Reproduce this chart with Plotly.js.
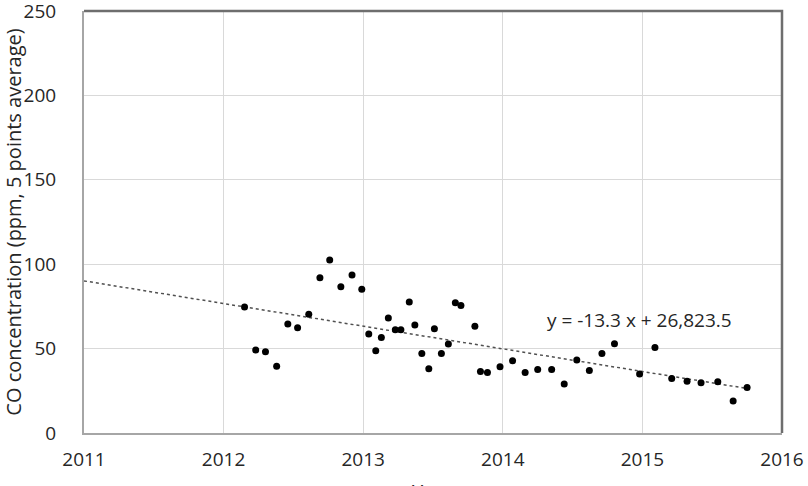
<!DOCTYPE html>
<html>
<head>
<meta charset="utf-8">
<script src="https://cdn.plot.ly/plotly-3.0.1.min.js"></script>
<style>html,body{margin:0;padding:0;background:#fff;}#chart{width:808px;height:486px;}</style>
</head>
<body>
<div id="chart"></div>
<script>
// Data
var years = [2012.15, 2012.23, 2012.30, 2012.38, 2012.46, 2012.53, 2012.61, 2012.69, 2012.76, 2012.84,
             2012.92, 2012.99, 2013.04, 2013.09, 2013.13, 2013.18, 2013.23, 2013.27, 2013.33, 2013.37,
             2013.42, 2013.47, 2013.51, 2013.56, 2013.61, 2013.66, 2013.70, 2013.80, 2013.84, 2013.89,
             2013.98, 2014.07, 2014.16, 2014.25, 2014.35, 2014.44, 2014.53, 2014.62, 2014.71, 2014.80,
             2014.98, 2015.09, 2015.21, 2015.32, 2015.42, 2015.54, 2015.65, 2015.75];
var coValues = [74.6, 49.1, 48.1, 39.6, 64.5, 62.4, 70.3, 92.0, 102.5, 86.7,
                93.6, 85.1, 58.6, 48.7, 56.6, 68.1, 61.2, 61.2, 77.6, 64.0,
                47.1, 38.0, 61.8, 47.1, 52.7, 77.2, 75.6, 63.3, 36.4, 35.8,
                39.2, 42.8, 35.8, 37.6, 37.6, 29.1, 43.2, 37.0, 47.1, 52.8,
                35.0, 50.7, 32.3, 30.7, 29.7, 30.3, 19.0, 26.9];
var xTickVals = [2011, 2012, 2013, 2014, 2015, 2016];
var yTickVals = [0, 50, 100, 150, 200, 250];
var trendLabel = "y = -13.3 x + 26,823.5";
var xTitle = "Year";
var yTitle = "CO concentration (ppm, 5 points average)";
var trendStart = 2011;

// Least-squares linear trend from the data
var n = years.length, sx = 0, sy = 0, sxx = 0, sxy = 0;
for (var i = 0; i < n; i++) { sx += years[i]; sy += coValues[i]; sxx += years[i]*years[i]; sxy += years[i]*coValues[i]; }
var slope = (n*sxy - sx*sy) / (n*sxx - sx*sx);
var intercept = (sy - slope*sx) / n;
var trendX = [trendStart, years[n-1]];
var trendY = trendX.map(function(x){ return slope*x + intercept; });

var font = "'Open Sans', 'Noto Sans', sans-serif";

var traces = [
  {x: trendX, y: trendY, type: 'scatter', mode: 'lines',
   line: {color: '#505050', width: 1.5, dash: 'dot'}, hoverinfo: 'skip', showlegend: false},
  {x: years, y: coValues, type: 'scatter', mode: 'markers',
   marker: {color: '#000000', size: 7}, showlegend: false}
];

var layout = {
  width: 808, height: 486,
  margin: {l: 84, r: 26, t: 11, b: 53, pad: 0},
  paper_bgcolor: '#ffffff', plot_bgcolor: '#ffffff',
  font: {family: font, size: 19, color: '#262626'},
  showlegend: false,
  xaxis: {
    range: [2011, 2016], tickvals: xTickVals, ticktext: xTickVals.map(String),
    showgrid: true, gridcolor: '#d9d9d9', gridwidth: 1, zeroline: false,
    showline: true, linecolor: '#a6a6a6', linewidth: 2,
    ticks: '', ticklabelstandoff: 8, ticklabeloverflow: 'allow',
    tickfont: {family: font, size: 19, color: '#262626'},
    automargin: false
  },
  yaxis: {
    range: [0, 250], tickvals: yTickVals, ticktext: yTickVals.map(String),
    showgrid: true, gridcolor: '#d9d9d9', gridwidth: 1, zeroline: false,
    showline: true, linecolor: '#a6a6a6', linewidth: 2,
    ticks: '', ticklabelstandoff: 22, ticklabeloverflow: 'allow',
    tickfont: {family: font, size: 19, color: '#262626'},
    title: {text: yTitle, font: {family: font, size: 20, color: '#262626'}, standoff: 4},
    automargin: false
  },
  shapes: [
    {type: 'path', xref: 'paper', yref: 'paper', path: 'M 0 1 L 1 1 L 1 0',
     line: {color: '#6e6e6e', width: 2.5}}
  ],
  annotations: [
    {text: trendLabel, xref: 'x', yref: 'y', x: 2014.98, y: 67, showarrow: false,
     font: {family: font, size: 19, color: '#262626'}, xanchor: 'center', yanchor: 'middle'},
    {text: xTitle, xref: 'paper', yref: 'paper', x: 0.5, y: -0.103, showarrow: false,
     font: {family: font, size: 20, color: '#262626'}, xanchor: 'center', yanchor: 'top'}
  ]
};

Plotly.newPlot('chart', traces, layout, {displayModeBar: false, staticPlot: true});
</script>
</body>
</html>
